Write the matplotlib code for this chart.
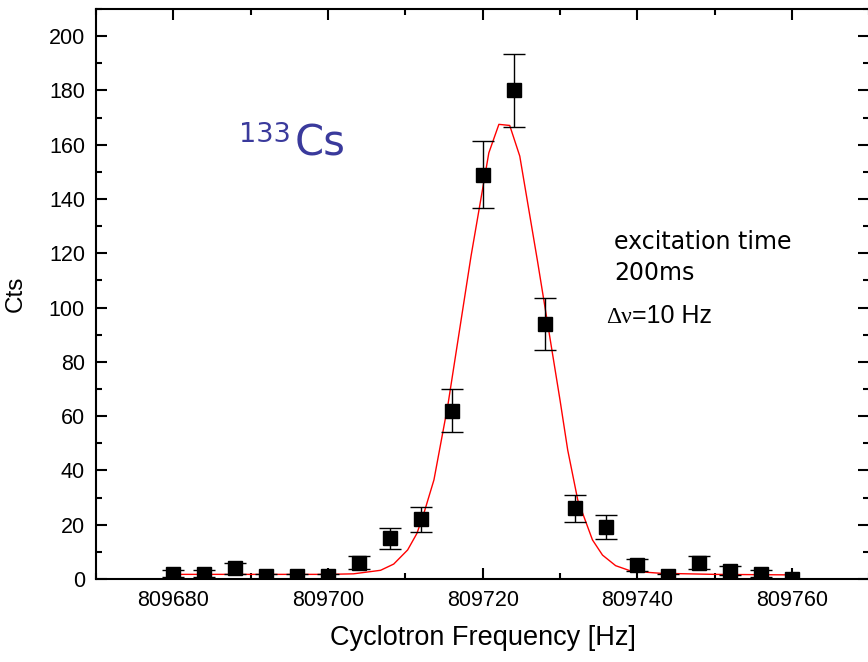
import numpy as np
import matplotlib
matplotlib.use('Agg')
import matplotlib.pyplot as plt

# measured counts vs. excitation frequency
freq = [809680, 809684, 809688, 809692, 809696, 809700, 809704, 809708, 809712,
        809716, 809720, 809724, 809728, 809732, 809736, 809740, 809744, 809748,
        809752, 809756, 809760]
counts = [2, 2, 4, 1, 1, 1, 6, 15, 22, 62, 149, 180, 94, 26, 19, 5, 1, 6, 3, 2, 0]
errs = [1.4, 1.4, 2.0, 1.0, 1.0, 1.0, 2.4, 3.9, 4.7, 7.9, 12.2, 13.4, 9.7, 5.1,
        4.4, 2.2, 1.0, 2.4, 1.7, 1.4, 0.0]

# fitted resonance curve
fit_freq = [809680.0, 809690.0, 809700.0, 809703.3, 809706.8, 809708.5, 809710.3,
            809711.5, 809712.4, 809713.7, 809715.5, 809718.5, 809720.8, 809722.1,
            809723.5, 809724.8, 809727.1, 809730.0, 809731.0, 809732.3, 809734.2,
            809735.5, 809737.2, 809739.2, 809743.0, 809750.0, 809760.3]
fit_cts = [1.7, 1.7, 1.7, 1.9, 3.2, 5.5, 10.7, 16.8, 24.2, 36.5, 64.0, 119.0,
           157.0, 167.5, 167.1, 155.8, 117.0, 66.0, 47.5, 29.1, 14.4, 8.8, 4.9,
           2.9, 2.1, 1.7, 1.5]

plt.rcParams['font.family'] = ['Liberation Sans', 'DejaVu Sans']

fig = plt.figure(figsize=(8.68, 6.62), dpi=100)
ax = fig.add_axes([0.1106, 0.1254, 0.8909, 0.861])

ax.plot(fit_freq, fit_cts, color='red', lw=1.0, zorder=2)
ax.errorbar(freq, counts, yerr=errs, fmt='s', color='black', ms=9.5,
            elinewidth=1.0, capsize=8, capthick=1.0, zorder=3)

ax.set_xlim(809670, 809770)
ax.set_ylim(0, 210)
ax.set_xticks([809680, 809700, 809720, 809740, 809760])
ax.set_xticks(np.arange(809670, 809771, 10), minor=True)
ax.set_yticks(np.arange(0, 201, 20))
ax.set_yticks(np.arange(0, 211, 10), minor=True)
ax.ticklabel_format(useOffset=False, style='plain', axis='x')

ax.tick_params(which='both', direction='in', top=True, right=True,
               width=1.5, labelsize=15.5, pad=8)
ax.tick_params(which='major', length=8)
ax.tick_params(which='minor', length=4.5)
for s in ax.spines.values():
    s.set_linewidth(1.5)

ax.set_xlabel('Cyclotron Frequency [Hz]', fontsize=19.5, labelpad=10)
ax.set_ylabel('Cts', fontsize=17.5, labelpad=16)

blue = '#3a3a9c'
fig.text(239/868, 1-142/662, '133', fontsize=19.5, color=blue,
         family='DejaVu Sans', va='baseline')
fig.text(295/868, 1-155/662, 'Cs', fontsize=30, color=blue,
         family='DejaVu Sans', va='baseline')

fig.text(614/868, 1-249/662, 'excitation time', fontsize=17, family='DejaVu Sans',
         va='baseline')
fig.text(614/868, 1-280/662, '200ms', fontsize=17, family='DejaVu Sans',
         va='baseline')
fig.text(606/868, 1-323/662, '\u0394\u03bd', fontsize=17, family='Liberation Serif',
         va='baseline')
fig.text(632/868, 1-323/662, '=10 Hz', fontsize=18, va='baseline')

plt.savefig('out.png', dpi=100)
